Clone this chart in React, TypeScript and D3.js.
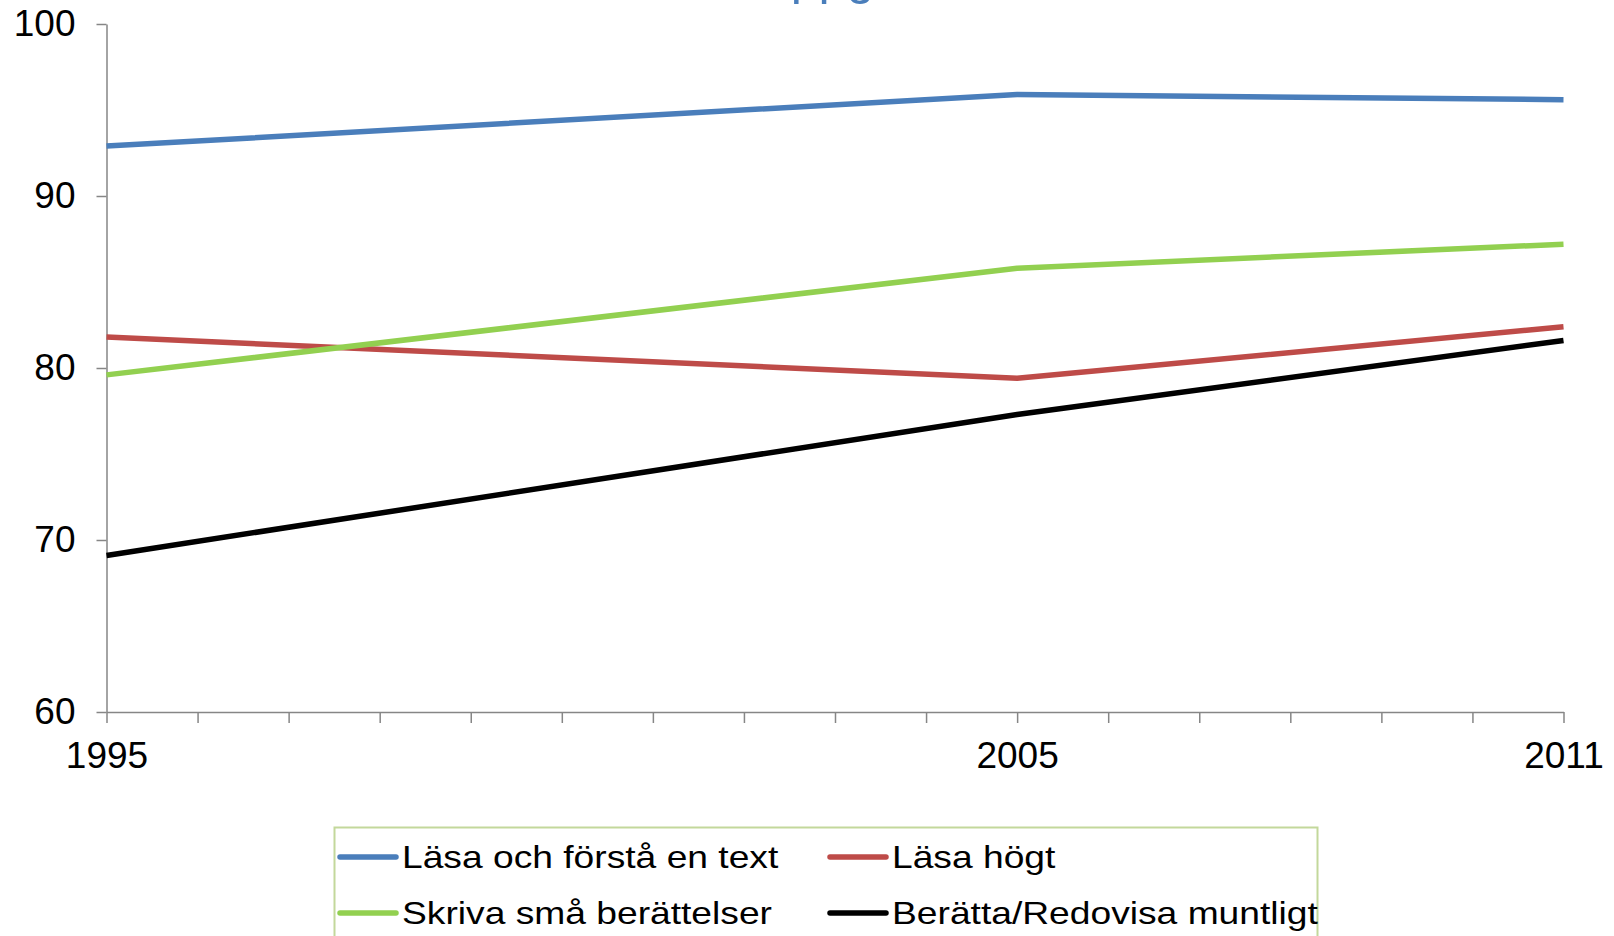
import * as d3 from 'd3';
import { useEffect, useRef } from 'react';

type Point = { year: number; value: number };

// years with data, and the visible year labels
const years = [1995, 2005, 2011];
const yTicks = [60, 70, 80, 90, 100];

// series values (percent)
const lasaForsta = [92.9, 95.9, 95.6];
const lasaHogt = [81.8, 79.4, 82.4];
const skrivaBerattelser = [79.6, 85.8, 87.2];
const berattaMuntligt = [69.1, 77.3, 81.6];

const seriesNames = [
  'Läsa och förstå en text',
  'Läsa högt',
  'Skriva små berättelser',
  'Berätta/Redovisa muntligt',
];
const seriesColors = ['#4a7ebb', '#be4b48', '#92d050', '#000000'];
const seriesValues = [lasaForsta, lasaHogt, skrivaBerattelser, berattaMuntligt];

const App = () => {
  const ref = useRef<HTMLDivElement>(null);

  useEffect(() => {
    document.body.style.margin = '0';
    const width = 1614;
    const height = 936;
    const font = '"Liberation Sans", Arial, sans-serif';

    const x = d3.scaleLinear().domain([1995, 2011]).range([106.5, 1563.5]);
    const y = d3.scaleLinear().domain([60, 100]).range([712, 24]);

    const refref = ref.current;
    const svg = d3
      .select(refref)
      .append('svg')
      .attr('width', width)
      .attr('height', height)
      .style('display', 'block')
      .style('background', '#fff');

    //title, mostly cut off above the top edge
    svg
      .append('text')
      .attr('x', 763)
      .attr('y', -6)
      .attr('text-anchor', 'end')
      .style('font-family', font)
      .style('font-size', '50px')
      .style('fill', '#4a7ebb')
      .text('Andel elever som klarar ');
    svg
      .append('text')
      .attr('x', 763)
      .attr('y', -6)
      .style('font-family', font)
      .style('font-size', '50px')
      .style('fill', '#4a7ebb')
      .text('uppgifterna');

    //y axis
    svg
      .append('g')
      .attr('transform', `translate(${x(1995)},0)`)
      .call(d3.axisLeft(y).tickValues(yTicks).tickSize(10).tickSizeOuter(0).tickPadding(21))
      .call((g) => {
        g.select('.domain').attr('stroke', '#868686').attr('stroke-width', 1.5);
        g.selectAll('.tick line').attr('stroke', '#868686').attr('stroke-width', 1.5);
        g.selectAll('.tick text')
          .style('font-family', font)
          .style('font-size', '37px')
          .style('fill', '#000');
      });

    //x axis, a tick every year
    svg
      .append('g')
      .attr('transform', `translate(0,${y(60)})`)
      .call(
        d3
          .axisBottom(x)
          .tickValues(d3.range(1995, 2012))
          .tickSize(11)
          .tickSizeOuter(0)
          .tickPadding(19)
          .tickFormat((d) => (years.includes(d as number) ? String(d) : '')),
      )
      .call((g) => {
        g.select('.domain').attr('stroke', '#868686').attr('stroke-width', 1.5);
        g.selectAll('.tick line').attr('stroke', '#868686').attr('stroke-width', 1.5);
        g.selectAll('.tick text')
          .style('font-family', font)
          .style('font-size', '37px')
          .style('fill', '#000');
      });

    //lines
    const line = d3
      .line<Point>()
      .x((d) => x(d.year))
      .y((d) => y(d.value));

    seriesValues.forEach((vals, i) => {
      const data: Point[] = years.map((yr, j) => ({ year: yr, value: vals[j] }));
      svg
        .append('path')
        .datum(data)
        .attr('fill', 'none')
        .attr('stroke', seriesColors[i])
        .attr('stroke-width', 5.5)
        .attr('stroke-linejoin', 'round')
        .attr('d', line);
    });

    //legend
    const legend = svg.append('g');
    legend
      .append('rect')
      .attr('x', 334.5)
      .attr('y', 827.5)
      .attr('width', 983)
      .attr('height', 140)
      .attr('fill', '#fff')
      .attr('stroke', '#c3d89b')
      .attr('stroke-width', 2);

    const colX = [340, 830];
    const rowY = [857, 913];
    seriesNames.forEach((name, i) => {
      const cx = colX[i % 2];
      const cy = rowY[Math.floor(i / 2)];
      legend
        .append('line')
        .attr('x1', cx)
        .attr('x2', cx + 56)
        .attr('y1', cy)
        .attr('y2', cy)
        .attr('stroke', seriesColors[i])
        .attr('stroke-width', 5.5)
        .attr('stroke-linecap', 'round');
      legend
        .append('text')
        .attr('transform', `translate(${cx + 62},${cy + 10.5}) scale(1.2,1)`)
        .style('font-family', font)
        .style('font-size', '31px')
        .style('fill', '#000')
        .text(name);
    });

    return () => {
      d3.select(refref).selectAll('svg').remove();
    };
  }, []);

  return <div ref={ref} />;
};

export default App;
